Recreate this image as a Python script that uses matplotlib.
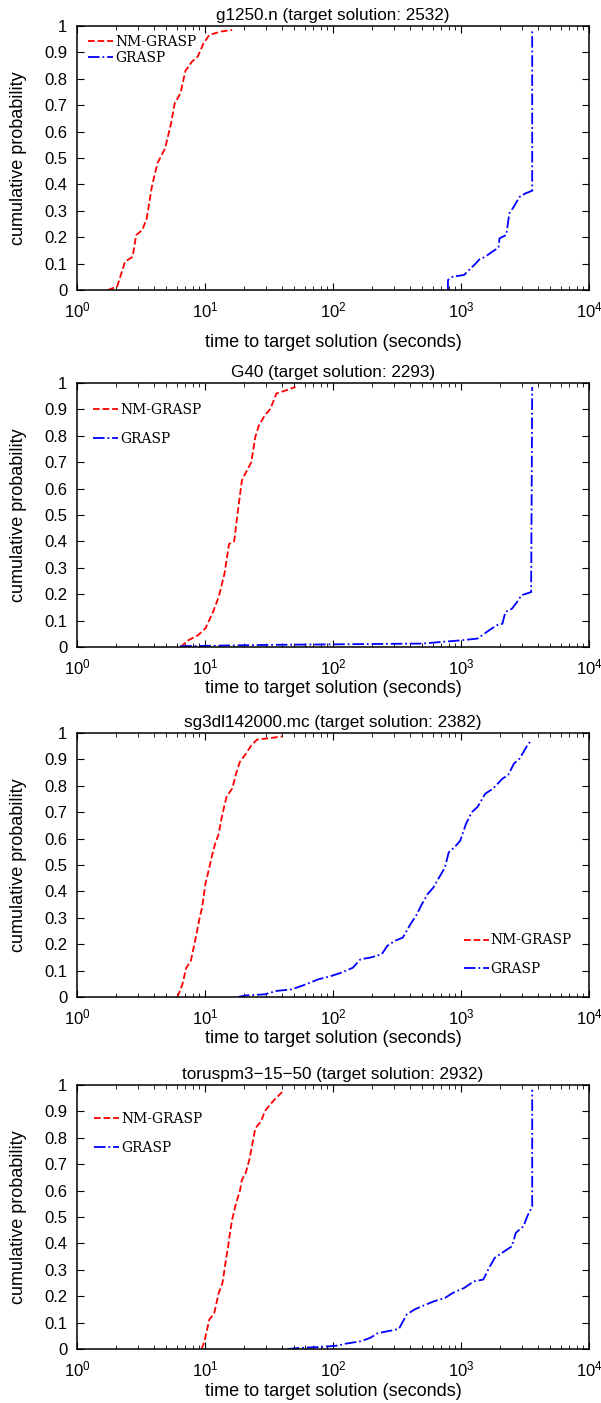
import matplotlib
matplotlib.use('Agg')
import matplotlib.pyplot as plt
from matplotlib.ticker import FixedLocator, FixedFormatter, LogLocator

plt.rcParams['font.family'] = ['Liberation Sans', 'DejaVu Sans']
plt.rcParams['mathtext.fontset'] = 'custom'
plt.rcParams['mathtext.rm'] = 'Liberation Sans'
plt.rcParams['mathtext.it'] = 'Liberation Sans:italic'

# g1250.n
t1_nm = [1.74, 2.06, 2.37, 2.72, 2.9, 3.23, 3.5, 3.84, 4.25, 4.88, 5.42, 5.8, 6.43, 7.03, 7.91, 8.77, 9.73, 10.8, 13.3, 16.3]
p1_nm = [0.0, 0.013, 0.107, 0.126, 0.208, 0.227, 0.27, 0.39, 0.48, 0.537, 0.63, 0.707, 0.745, 0.83, 0.865, 0.884, 0.934, 0.966, 0.979, 0.985]
t1_gr = [791, 791, 859, 1057, 1300, 1393, 1550, 1750, 1963, 2000, 2256, 2385, 2590, 2870, 3186, 3600, 3600]
p1_gr = [0.0, 0.038, 0.05, 0.057, 0.1, 0.116, 0.126, 0.145, 0.16, 0.196, 0.208, 0.29, 0.316, 0.353, 0.366, 0.376, 0.98]

# G40
t2_nm = [6.43, 7.38, 8.77, 10.07, 11.56, 12.8, 14.2, 15.4, 16.9, 18.1, 19.4, 20.8, 23.0, 24.7, 26.4, 29.3, 32.5, 36.1, 42.8, 50.9]
p2_nm = [0.0, 0.025, 0.044, 0.07, 0.133, 0.19, 0.278, 0.39, 0.40, 0.518, 0.63, 0.66, 0.70, 0.795, 0.84, 0.877, 0.903, 0.96, 0.972, 0.985]
t2_gr = [6.4, 31.4, 101, 495, 986, 1346, 1656, 1898, 2105, 2224, 2500, 2680, 2972, 3531, 3600]
p2_gr = [0.003, 0.008, 0.01, 0.013, 0.025, 0.032, 0.063, 0.082, 0.088, 0.133, 0.145, 0.164, 0.196, 0.208, 0.985]

# sg3dl142000.mc
t3_nm = [6.09, 6.66, 7.13, 7.75, 8.47, 9.08, 9.5, 10.07, 10.8, 11.4, 12.0, 12.8, 13.5, 14.7, 16.3, 17.5, 18.7, 20.8, 23.0, 25.5, 31.4, 40.0]
p3_nm = [0.0, 0.048, 0.11, 0.137, 0.225, 0.30, 0.34, 0.428, 0.49, 0.54, 0.58, 0.618, 0.68, 0.757, 0.79, 0.846, 0.89, 0.92, 0.953, 0.975, 0.98, 0.987]
t3_gr = [18.1, 20.8, 29.3, 36.1, 47.5, 58.4, 76.9, 94.6, 116, 143, 164, 195, 240, 266, 305, 351, 403, 446, 495, 549, 609, 675,
         748, 802, 889, 986, 1094, 1213, 1346, 1546, 1774, 2105, 2333, 2590, 2870, 3076, 3297, 3531]
p3_gr = [0.0, 0.006, 0.01, 0.023, 0.029, 0.044, 0.067, 0.078, 0.092, 0.111, 0.143, 0.149, 0.162, 0.194, 0.213, 0.225, 0.276, 0.308,
         0.352, 0.39, 0.415, 0.453, 0.49, 0.548, 0.567, 0.592, 0.656, 0.70, 0.72, 0.77, 0.789, 0.827, 0.84, 0.884, 0.903, 0.928, 0.953, 0.972]

# toruspm3-15-50
t4_nm = [9.4, 9.9, 10.8, 11.8, 12.8, 13.7, 14.7, 15.1, 15.8, 16.3, 17.5, 18.7, 19.4, 20.8, 22.2, 23.8, 24.7, 27.4, 29.3, 31.4, 34.8, 40.0]
p4_nm = [0.0, 0.029, 0.111, 0.136, 0.212, 0.25, 0.35, 0.383, 0.452, 0.49, 0.553, 0.597, 0.64, 0.667, 0.717, 0.793, 0.836, 0.862, 0.9, 0.919, 0.944, 0.973]
t4_gr = [44.3, 54.5, 82.5, 109, 125, 164, 195, 224, 266, 327, 376, 431, 495, 609, 748, 859, 1057, 1256, 1493, 1656, 1834, 2178,
         2500, 2680, 3076, 3297, 3600, 3600]
p4_gr = [0.0, 0.004, 0.008, 0.013, 0.02, 0.029, 0.042, 0.06, 0.067, 0.076, 0.13, 0.149, 0.162, 0.18, 0.193, 0.212, 0.231, 0.256,
         0.263, 0.307, 0.345, 0.37, 0.389, 0.44, 0.465, 0.503, 0.54, 0.982]

titles = ['g1250.n (target solution: 2532)', 'G40 (target solution: 2293)',
          'sg3dl142000.mc (target solution: 2382)', 'toruspm3\u221215\u221250 (target solution: 2932)']
series = [(t1_nm, p1_nm, t1_gr, p1_gr), (t2_nm, p2_nm, t2_gr, p2_gr),
          (t3_nm, p3_nm, t3_gr, p3_gr), (t4_nm, p4_nm, t4_gr, p4_gr)]
yticks = [0, 0.1, 0.2, 0.3, 0.4, 0.5, 0.6, 0.7, 0.8, 0.9, 1]
ytick_labels = ['0', '0.1', '0.2', '0.3', '0.4', '0.5', '0.6', '0.7', '0.8', '0.9', '1']

W, H = 601, 1403
fig = plt.figure(figsize=(W / 100, H / 100), dpi=100)

tops = [26, 383, 733, 1085]
axh = 264
left, right = 77, 589
aw = right - left
xlabel_pads = [10, 2, 2, 3]

# legend placement (pixel offsets inside the axes)
legend_cfg = [
    dict(loc='upper left', bbox_to_anchor=(11 / aw, 1 - 9 / axh), labelspacing=0.15),
    dict(loc='upper left', bbox_to_anchor=(16 / aw, 1 - 20 / axh), labelspacing=1.05),
    dict(loc='lower right', bbox_to_anchor=(1 - 17 / aw, 21 / axh), labelspacing=1.05),
    dict(loc='upper left', bbox_to_anchor=(17 / aw, 1 - 27 / axh), labelspacing=1.05),
]

for i in range(4):
    ax = fig.add_axes([left / W, 1 - (tops[i] + axh) / H, aw / W, axh / H])
    tn, pn, tg, pg = series[i]
    ax.plot(tn, pn, color='red', linestyle='--', linewidth=1.3, label='NM-GRASP')
    ax.plot(tg, pg, color='blue', linestyle='-.', linewidth=1.3, label='GRASP')
    ax.set_xscale('log')
    ax.set_xlim(1, 1e4)
    ax.set_ylim(0, 1)
    ax.yaxis.set_major_locator(FixedLocator(yticks))
    ax.yaxis.set_major_formatter(FixedFormatter(ytick_labels))
    ax.xaxis.set_major_locator(LogLocator(base=10, numticks=10))
    ax.xaxis.set_minor_locator(LogLocator(base=10, subs=range(2, 10), numticks=10))
    ax.tick_params(which='both', direction='in', top=True, right=True, labelsize=12)
    ax.tick_params(axis='x', which='major', pad=7.5)
    ax.tick_params(axis='y', which='major', pad=7)
    ax.tick_params(which='major', length=5)
    ax.tick_params(which='minor', length=3)
    for s in ax.spines.values():
        s.set_linewidth(1.1)
    ax.set_title(titles[i], fontsize=12.3, pad=4.5)
    ax.set_xlabel('time to target solution (seconds)', fontsize=13, labelpad=xlabel_pads[i])
    ax.set_ylabel('cumulative probability', fontsize=13, labelpad=12)
    ax.legend(frameon=False, prop={'family': 'DejaVu Serif', 'size': 10},
              handlelength=1.8, handletextpad=0.15, borderaxespad=0, borderpad=0, **legend_cfg[i])

fig.savefig('out.png', dpi=100)
